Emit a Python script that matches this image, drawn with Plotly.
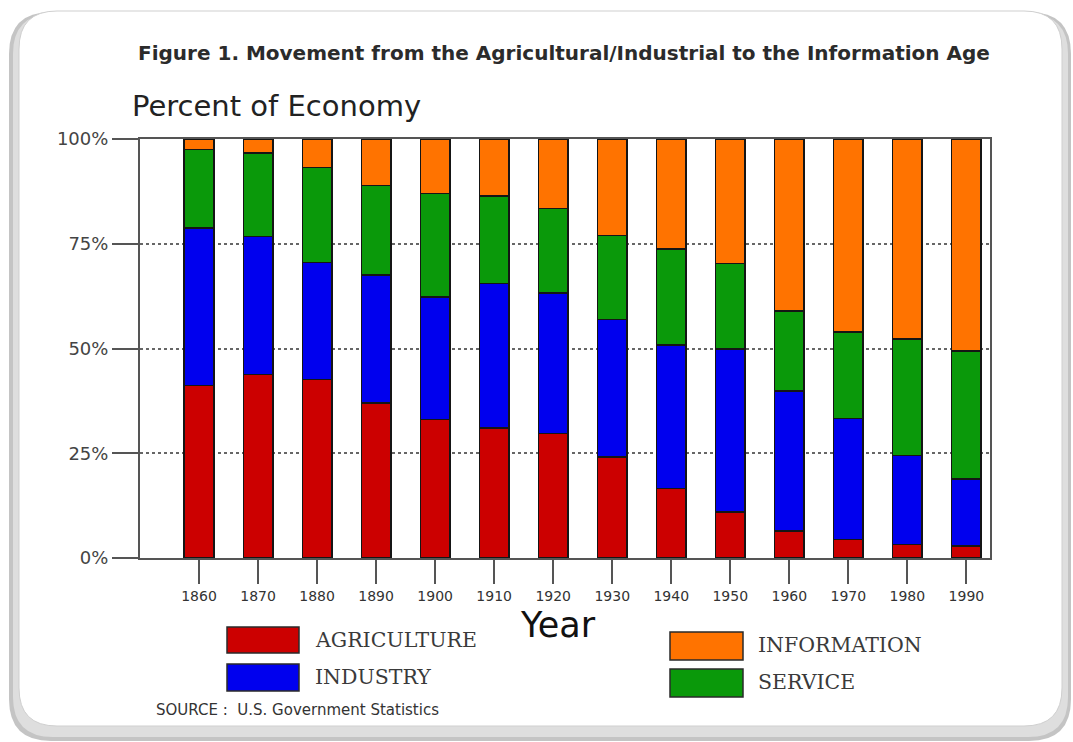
import plotly.graph_objects as go

# ---------------- data ----------------
years = [1860, 1870, 1880, 1890, 1900, 1910, 1920, 1930, 1940, 1950, 1960, 1970, 1980, 1990]
year_labels = [str(y) for y in years]
agriculture = [41.2, 43.8, 42.6, 37.0, 33.1, 31.0, 29.7, 24.1, 16.6, 11.0, 6.4, 4.4, 3.2, 2.8]
industry = [37.5, 32.9, 27.9, 30.5, 29.2, 34.5, 33.6, 32.8, 34.2, 38.9, 33.5, 28.9, 21.3, 16.0]
service = [18.8, 20.0, 22.7, 21.4, 24.7, 20.9, 20.1, 20.1, 22.9, 20.4, 19.0, 20.6, 27.7, 30.6]
information = [2.5, 3.3, 6.8, 11.1, 13.0, 13.6, 16.6, 23.0, 26.3, 29.7, 41.1, 46.1, 47.8, 50.6]
y_ticks = [0, 25, 50, 75, 100]
y_tick_labels = ["0%", "25%", "50%", "75%", "100%"]

series_names = ["AGRICULTURE", "INDUSTRY", "SERVICE", "INFORMATION"]
series_values = [agriculture, industry, service, information]
series_colors = ["#CC0000", "#0000EE", "#0A990A", "#FF7300"]

# ---------------- geometry ----------------
W, H = 1073, 742
ML, MR, MT, MB = 140, 83, 139, 184
PW, PH = W - ML - MR, H - MT - MB


def px(x):
    return (x - ML) / PW


def py(y):
    return (H - MB - y) / PH


fig = go.Figure()
for name, vals, col in zip(series_names, series_values, series_colors):
    fig.add_trace(go.Bar(
        x=years, y=vals, name=name, width=5,
        marker=dict(color=col, line=dict(color="#151515", width=1.6)),
        showlegend=False,
    ))


def rrect(x0, y0, x1, y1, r):
    X0, X1 = px(x0), px(x1)
    Y0, Y1 = py(y0), py(y1)
    rx, ry = r / PW, r / PH
    return (f"M {X0+rx},{Y0} L {X1-rx},{Y0} Q {X1},{Y0} {X1},{Y0-ry} "
            f"L {X1},{Y1+ry} Q {X1},{Y1} {X1-rx},{Y1} L {X0+rx},{Y1} "
            f"Q {X0},{Y1} {X0},{Y1+ry} L {X0},{Y0-ry} Q {X0},{Y0} {X0+rx},{Y0} Z")


shapes = [
    dict(type="path", xref="paper", yref="paper", layer="below",
         path=rrect(9, 12, 1071, 741, 42), fillcolor="#c4c4c4", line=dict(width=0)),
    dict(type="path", xref="paper", yref="paper", layer="below",
         path=rrect(13, 14, 1068, 737, 40), fillcolor="#dedede", line=dict(width=0)),
    dict(type="path", xref="paper", yref="paper", layer="below",
         path=rrect(19, 11, 1062, 726, 38), fillcolor="white",
         line=dict(color="#cfcfcf", width=1)),
]

# legend boxes (left column: AGRICULTURE, INDUSTRY; right column: INFORMATION, SERVICE)
legend_items = [
    (0, 227, 299, 627, 653, 313, 640),
    (1, 227, 299, 664, 691, 313, 677),
    (3, 670, 743, 632, 660, 756, 645),
    (2, 670, 743, 669, 697, 756, 682),
]
annotations = []
for idx, x0, x1, y0, y1, tx, ty in legend_items:
    shapes.append(dict(type="rect", xref="paper", yref="paper",
                       x0=px(x0), x1=px(x1), y0=py(y1), y1=py(y0),
                       fillcolor=series_colors[idx], line=dict(color="#2a2a2a", width=1.5)))
    annotations.append(dict(xref="paper", yref="paper", x=px(tx), y=py(ty),
                            xanchor="left", yanchor="middle", showarrow=False,
                            text=series_names[idx],
                            font=dict(family="DejaVu Serif", size=20.5, color="#3a3a3a")))

annotations += [
    dict(xref="paper", yref="paper", x=px(564), y=py(53), xanchor="center", yanchor="middle",
         showarrow=False,
         text="<b>Figure 1. Movement from the Agricultural/Industrial to the Information Age</b>",
         font=dict(family="DejaVu Sans", size=20, color="#2b2b2b")),
    dict(xref="paper", yref="paper", x=px(130), y=py(106), xanchor="left", yanchor="middle",
         showarrow=False, text="Percent of Economy",
         font=dict(family="DejaVu Sans", size=29, color="#222222")),
    dict(xref="paper", yref="paper", x=px(558), y=py(625), xanchor="center", yanchor="middle",
         showarrow=False, text="Year",
         font=dict(family="DejaVu Sans", size=35, color="#111111")),
    dict(xref="paper", yref="paper", x=px(154), y=py(710), xanchor="left", yanchor="middle",
         showarrow=False, text="SOURCE :  U.S. Government Statistics",
         font=dict(family="DejaVu Sans", size=15, color="#333333")),
]

fig.update_layout(
    width=W, height=H,
    margin=dict(l=ML, r=MR, t=MT, b=MB, pad=0),
    barmode="stack",
    paper_bgcolor="white",
    plot_bgcolor="rgba(0,0,0,0)",
    shapes=shapes,
    annotations=annotations,
    xaxis=dict(
        range=[1850, 1994], tickmode="array", tickvals=years, ticktext=year_labels,
        ticks="outside", ticklen=24, tickwidth=2, tickcolor="#555555",
        showline=True, linecolor="#555555", linewidth=2, mirror=True,
        showgrid=False, zeroline=False,
        tickfont=dict(family="DejaVu Sans", size=14, color="#333333"),
    ),
    yaxis=dict(
        range=[0, 100], tickmode="array", tickvals=y_ticks, ticktext=y_tick_labels,
        ticks="outside", ticklen=26, tickwidth=2, tickcolor="#555555",
        showline=True, linecolor="#555555", linewidth=2, mirror=True,
        showgrid=True, gridcolor="#666666", gridwidth=2, griddash="dot",
        zeroline=False,
        tickfont=dict(family="DejaVu Sans", size=18, color="#444444"),
    ),
)

fig.write_html("out.html")
